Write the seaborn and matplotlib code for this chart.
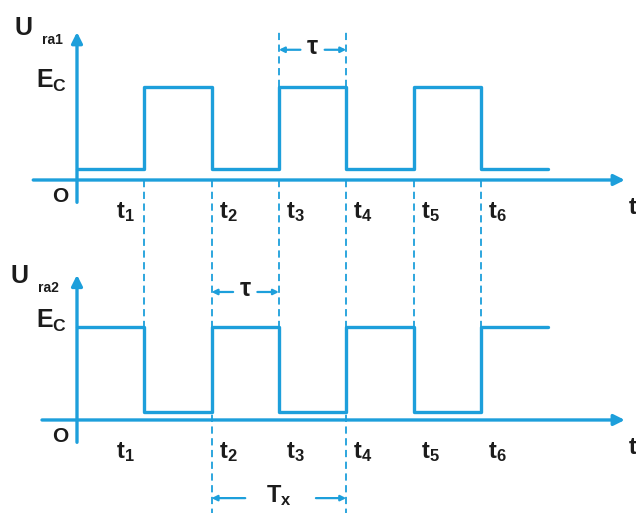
import seaborn as sns
import matplotlib.pyplot as plt

# switching instants t1..t6 (time units) and signal end
edges = [1, 2, 3, 4, 5, 6]
t_end = 7
times = [0] + edges + [t_end]
# top signal: low, high, low, high, low, high, low
ua1_levels = [0.12, 1, 0.12, 1, 0.12, 1, 0.12, 0.12]
# bottom signal: inverse
ua2_levels = [1, 0.09, 1, 0.09, 1, 0.09, 1, 1]
tick_names = ['t$_1$', 't$_2$', 't$_3$', 't$_4$', 't$_5$', 't$_6$']

sns.set_style('white')
plt.rcParams['font.family'] = ['Liberation Sans', 'DejaVu Sans']
plt.rcParams['font.weight'] = 'bold'
plt.rcParams['mathtext.fontset'] = 'custom'
plt.rcParams['mathtext.rm'] = 'Liberation Sans:bold'
plt.rcParams['mathtext.it'] = 'Liberation Sans:bold'
plt.rcParams['mathtext.bf'] = 'Liberation Sans:bold'

blue = '#1d9fdb'
ink = '#1c1c1c'
off2 = -2.58  # baseline of the lower diagram

fig = plt.figure(figsize=(6.36, 5.13), dpi=100)
ax = fig.add_axes([0, 0, 1, 1])
ax.set_xlim(-1.144, 8.306)
ax.set_ylim(-3.58, 1.935)
ax.axis('off')

# waveforms
sns.lineplot(x=times, y=ua1_levels, drawstyle='steps-post', color=blue, lw=2.4, ax=ax)
sns.lineplot(x=times, y=[v + off2 for v in ua2_levels], drawstyle='steps-post',
             color=blue, lw=2.4, ax=ax)

# axes with arrows
arr = dict(arrowstyle='-|>', color=blue, lw=2.4, mutation_scale=16, shrinkA=0, shrinkB=0)
for base, x0, ytop in [(0, -0.65, 1.59), (off2, -0.52, 1.56)]:
    ax.annotate('', xy=(8.14, base), xytext=(x0, base), arrowprops=arr)
    ax.annotate('', xy=(0, base + ytop), xytext=(0, base - 0.24), arrowprops=arr)

# dashed guides
dash = dict(color=blue, lw=1.3, ls=(0, (4, 2.5)))
for t in edges:
    bottom = -3.6 if t in (2, 4) else off2 + 1
    ax.plot([t, t], [0, bottom], **dash)
for t in (3, 4):
    ax.plot([t, t], [1, 1.6], **dash)

# interval arrows
small = dict(arrowstyle='-|>', color=blue, lw=1.6, mutation_scale=8, shrinkA=0, shrinkB=0)
ya = 1.40
ax.annotate('', xy=(3, ya), xytext=(3.32, ya), arrowprops=small)
ax.annotate('', xy=(4, ya), xytext=(3.68, ya), arrowprops=small)
ax.text(3.5, ya + 0.03, 'τ', ha='center', va='center', fontsize=18, color=ink)
yb = off2 + 1.376
ax.annotate('', xy=(2, yb), xytext=(2.32, yb), arrowprops=small)
ax.annotate('', xy=(3, yb), xytext=(2.68, yb), arrowprops=small)
ax.text(2.5, yb + 0.03, 'τ', ha='center', va='center', fontsize=18, color=ink)
yt = off2 - 0.84
ax.annotate('', xy=(2, yt), xytext=(2.5, yt), arrowprops=small)
ax.annotate('', xy=(4, yt), xytext=(3.55, yt), arrowprops=small)
ax.text(3.0, yt + 0.03, 'T$_x$', ha='center', va='center', fontsize=17, color=ink)

# labels
ax.text(-0.79, 1.63, 'U', ha='center', va='center', fontsize=18, color=ink)
ax.text(-0.36, 1.50, 'ra1', ha='center', va='center', fontsize=10, color=ink)
ax.text(-0.86, off2 + 1.55, 'U', ha='center', va='center', fontsize=18, color=ink)
ax.text(-0.43, off2 + 1.42, 'ra2', ha='center', va='center', fontsize=10, color=ink)
for base in (0, off2):
    ax.text(-0.38, base + 1.06, 'E$_C$', ha='center', va='center', fontsize=18, color=ink)
    ax.text(-0.25, base - 0.18, 'O', ha='center', va='center', fontsize=15, color=ink)
    for t, name in zip(edges, tick_names):
        xl = t - 0.28 if t == 1 else t + 0.25
        ax.text(xl, base - 0.35, name, ha='center', va='center', fontsize=17, color=ink)
    ax.text(8.2, base - 0.3, 't', ha='left', va='center', fontsize=17, color=ink)

plt.savefig('out.png', dpi=100)
plt.close()
